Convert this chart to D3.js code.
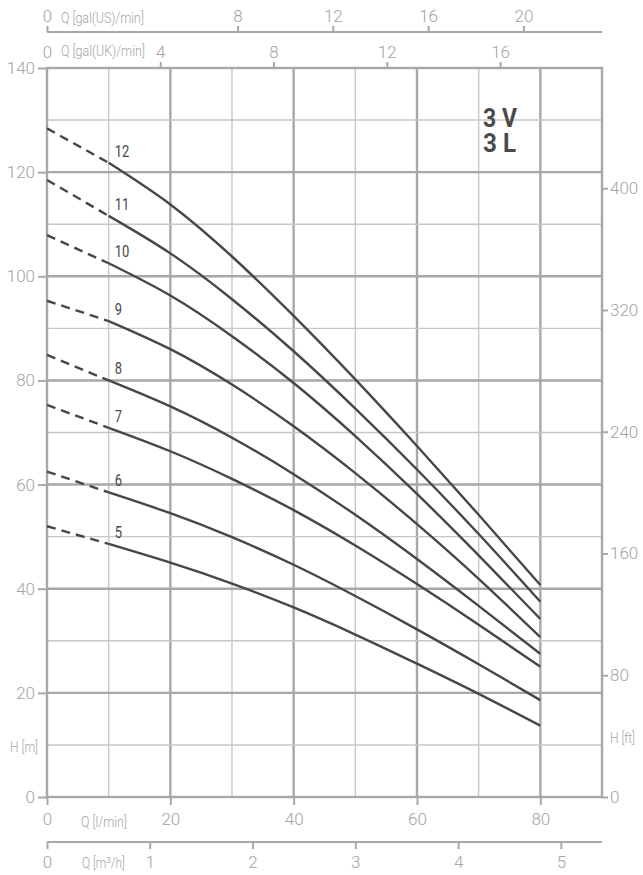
<!DOCTYPE html>
<html>
<head>
<meta charset="utf-8">
<script src="https://cdn.jsdelivr.net/npm/d3@7"></script>
<style>
  html, body { margin: 0; padding: 0; background: #fff; }
  svg { display: block; font-family: Roboto, "Noto Sans", sans-serif; }
</style>
</head>
<body>
<div id="chart"></div>
<script>
// Pump curves 3V / 3L - head H [m] against flow Q [l/min]
const stages = [5, 6, 7, 8, 9, 10, 11, 12];
const flowSolid = [10, 20, 30, 40, 50, 60, 70, 80];
const flowDashed = [0, 10];

// head at Q = 0 (dashed start)
const headStart = [52.0, 62.5, 75.3, 84.9, 95.3, 107.9, 118.5, 128.4];

// head at Q = 10..80 (solid part), one row per stage
const head5  = [48.6, 45.0, 41.0, 36.4, 31.2, 25.6, 19.8, 13.7];
const head6  = [58.5, 54.5, 49.9, 44.6, 38.6, 32.2, 25.5, 18.6];
const head7  = [70.9, 66.4, 61.1, 55.1, 48.3, 40.9, 33.1, 25.0];
const head8  = [80.0, 75.0, 69.0, 62.0, 54.2, 45.7, 36.7, 27.5];
const head9  = [91.4, 86.0, 79.2, 71.2, 62.2, 52.4, 41.9, 30.7];
const head10 = [102.5, 96.3, 88.5, 79.5, 69.3, 58.2, 46.4, 34.2];
const head11 = [111.6, 104.4, 95.6, 85.6, 74.6, 62.9, 50.5, 37.5];
const head12 = [121.8, 113.8, 103.8, 92.4, 80.2, 67.4, 54.2, 40.7];
const heads = [head5, head6, head7, head8, head9, head10, head11, head12];

// axis ticks
const hTicks = [0, 20, 40, 60, 80, 100, 120, 140];
const ftTicks = [0, 80, 160, 240, 320, 400];
const lminTicks = [0, 20, 40, 60, 80];
const m3hTicks = [0, 1, 2, 3, 4, 5];
const usTicks = [0, 8, 12, 16, 20];
const ukTicks = [0, 4, 8, 12, 16];

const width = 643;
const height = 875;

const colors = {
  major: '#a7a7ac',
  minor: '#c7c7cb',
  label: '#a3a3a8',
  curve: '#474747'
};

const svg = d3.select('#chart')
  .append('svg')
  .attr('width', width)
  .attr('height', height);

// Scales
const x = d3.scaleLinear().domain([0, 90]).range([47, 602]);
const y = d3.scaleLinear().domain([0, 140]).range([797, 68]);
const yFt = d3.scaleLinear().domain([0, 479]).range([797, 68]);
const xM3h = d3.scaleLinear().domain([0, 5.4]).range([47, 602]);
const xUS = d3.scaleLinear().domain([0, 23.3]).range([47, 602]);
const xUK = d3.scaleLinear().domain([0, 19.6]).range([47, 602]);

// squeeze a text horizontally to a given width (condensed look)
function condense(sel, w) {
  sel.each(function() {
    const t = d3.select(this);
    const natural = this.getComputedTextLength();
    const k = natural > 0 ? w / natural : 1;
    const x0 = +t.attr('x'), y0 = +t.attr('y');
    t.attr('x', 0).attr('y', 0)
      .attr('transform', `translate(${x0},${y0}) scale(${k},1)`);
  });
}

// ============================================
// Grid
// ============================================
const grid = svg.append('g');

const qGrid = d3.range(10, 90, 10);
const hGrid = d3.range(10, 140, 10);

grid.selectAll('.vgrid')
  .data(qGrid)
  .enter()
  .append('line')
  .attr('x1', d => x(d)).attr('x2', d => x(d))
  .attr('y1', y(0)).attr('y2', y(140))
  .attr('stroke', d => d % 20 === 0 ? colors.major : colors.minor)
  .attr('stroke-width', d => d % 20 === 0 ? 2.4 : 1.4);

grid.selectAll('.hgrid')
  .data(hGrid)
  .enter()
  .append('line')
  .attr('x1', x(0)).attr('x2', x(90))
  .attr('y1', d => y(d)).attr('y2', d => y(d))
  .attr('stroke', d => d % 20 === 0 ? colors.major : colors.minor)
  .attr('stroke-width', d => d % 20 === 0 ? 2.4 : 1.4);

// frame
grid.append('rect')
  .attr('x', x(0)).attr('y', y(140))
  .attr('width', x(90) - x(0))
  .attr('height', y(0) - y(140))
  .attr('fill', 'none')
  .attr('stroke', colors.major)
  .attr('stroke-width', 2.4);

// ============================================
// Axes
// ============================================
function styleAxis(axis) {
  axis.select('.domain').remove();
  axis.selectAll('line')
    .attr('stroke', colors.major)
    .attr('stroke-width', 2);
  axis.selectAll('text')
    .attr('fill', colors.label)
    .attr('font-size', '17px')
    .attr('font-weight', 300)
    .attr('font-family', 'Roboto, sans-serif');
}

// left H [m]
const yAxisLeft = svg.append('g')
  .attr('transform', `translate(${x(0)},0)`)
  .call(d3.axisLeft(y).tickValues(hTicks).tickSize(9).tickPadding(3));
styleAxis(yAxisLeft);

// right H [ft]
const yAxisRight = svg.append('g')
  .attr('transform', `translate(${x(90)},0)`)
  .call(d3.axisRight(yFt).tickValues(ftTicks).tickSize(6).tickPadding(2));
styleAxis(yAxisRight);

// bottom Q [l/min]
const xAxisBottom = svg.append('g')
  .attr('transform', `translate(0,${y(0)})`)
  .call(d3.axisBottom(x).tickValues(lminTicks).tickSize(8).tickPadding(8));
styleAxis(xAxisBottom);

// bottom Q [m3/h]
const m3hAxis = svg.append('g')
  .attr('transform', 'translate(0,842)');
m3hAxis.append('line')
  .attr('x1', xM3h(0)).attr('x2', x(90))
  .attr('stroke', colors.major).attr('stroke-width', 2);
m3hAxis.call(d3.axisBottom(xM3h).tickValues(m3hTicks).tickFormat(d3.format('d'))
  .tickSize(7).tickPadding(7));
styleAxis(m3hAxis);

// top Q [gal(US)/min]
const usAxis = svg.append('g')
  .attr('transform', 'translate(0,32)');
usAxis.append('line')
  .attr('x1', xUS(0)).attr('x2', x(90))
  .attr('stroke', colors.major).attr('stroke-width', 2);
usAxis.call(d3.axisTop(xUS).tickValues(usTicks).tickSize(6).tickPadding(4));
styleAxis(usAxis);

// top Q [gal(UK)/min]
const ukAxis = svg.append('g')
  .attr('transform', `translate(0,${y(140)})`)
  .call(d3.axisTop(xUK).tickValues(ukTicks).tickSize(6).tickPadding(4));
styleAxis(ukAxis);
ukAxis.selectAll('.tick line').filter(d => d === 0).remove();

// unit labels (condensed)
const unitLabels = [
  { text: 'Q [gal(US)/min]', x: 61, y: 23, w: 83 },
  { text: 'Q [gal(UK)/min]', x: 61, y: 56, w: 84 },
  { text: 'Q [l/min]', x: 81, y: 827, w: 46 },
  { text: 'Q [m³/h]', x: 82, y: 868, w: 43 },
  { text: 'H [m]', x: 10, y: 752, w: 28 },
  { text: 'H [ft]', x: 610, y: 743, w: 25 }
];

svg.selectAll('.unit-label')
  .data(unitLabels)
  .enter()
  .append('text')
  .attr('class', 'unit-label')
  .attr('x', d => d.x)
  .attr('y', d => d.y)
  .attr('fill', colors.label)
  .attr('font-size', '15px')
  .attr('font-weight', 300)
  .text(d => d.text)
  .each(function(d) { condense(d3.select(this), d.w); });

// ============================================
// Curves
// ============================================
const curves = svg.append('g');

const lineSolid = d3.line()
  .x(d => x(d.q))
  .y(d => y(d.h))
  .curve(d3.curveNatural);

const lineDashed = d3.line()
  .x(d => x(d.q))
  .y(d => y(d.h));

stages.forEach((s, i) => {
  const solid = flowSolid.map((q, j) => ({ q: q, h: heads[i][j] }));
  const dashed = [
    { q: flowDashed[0], h: headStart[i] },
    { q: flowDashed[1], h: heads[i][0] }
  ];

  curves.append('path')
    .datum(dashed)
    .attr('fill', 'none')
    .attr('stroke', colors.curve)
    .attr('stroke-width', 2.4)
    .attr('stroke-dasharray', '9,6')
    .attr('d', lineDashed);

  curves.append('path')
    .datum(solid)
    .attr('fill', 'none')
    .attr('stroke', colors.curve)
    .attr('stroke-width', 2.4)
    .attr('d', lineSolid);

  // stage label
  curves.append('text')
    .attr('x', x(flowSolid[0]) + 6)
    .attr('y', y(heads[i][0]) - 6)
    .attr('fill', colors.curve)
    .attr('font-size', '17px')
    .text(s)
    .call(condense, String(s).length * 7.3);
});

// Model name
const title = svg.append('g')
  .attr('fill', '#4a4a4a')
  .attr('font-size', '26px')
  .style('font-weight', 'bold');

title.append('text')
  .attr('x', 483).attr('y', 127)
  .text('3 V')
  .call(condense, 34);

title.append('text')
  .attr('x', 483).attr('y', 152)
  .text('3 L')
  .call(condense, 33);
</script>
</body>
</html>
